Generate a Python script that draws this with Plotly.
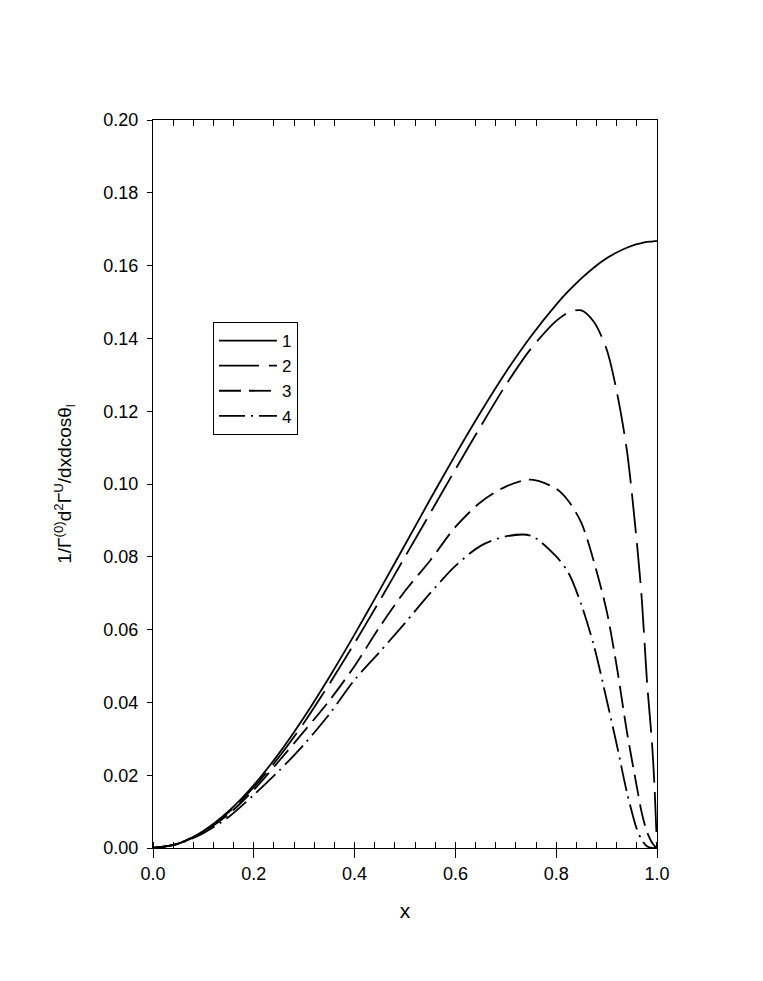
import plotly.graph_objects as go

# values
x_vals = [0.0, 0.05, 0.1, 0.15, 0.2, 0.25, 0.3, 0.35, 0.4, 0.45, 0.5, 0.55, 0.6, 0.65,
          0.7, 0.75, 0.8, 0.825, 0.85, 0.875, 0.9, 0.92, 0.94, 0.96, 0.97, 0.98, 0.99,
          0.995, 1.0]

curve1 = [0.0, 0.0012, 0.0047, 0.0101, 0.0173, 0.0260, 0.0360, 0.0470, 0.0587, 0.0709,
          0.0833, 0.0958, 0.1080, 0.1197, 0.1307, 0.1406, 0.1493, 0.1531, 0.1565, 0.1595,
          0.1620, 0.1636, 0.1649, 0.1659, 0.1662, 0.1665, 0.1666, 0.1667, 0.1667]

curve2 = [0.0, 0.0012, 0.0046, 0.0098, 0.0167, 0.0250, 0.0345, 0.0451, 0.0563, 0.0680,
          0.0800, 0.0920, 0.1040, 0.1158, 0.1272, 0.1372, 0.1448, 0.1472, 0.1477, 0.1445,
          0.1370, 0.1255, 0.1095, 0.0840, 0.0680, 0.0460, 0.0290, 0.0170, 0.0]

curve3 = [0.0, 0.0012, 0.0044, 0.0093, 0.0160, 0.0239, 0.0321, 0.0405, 0.0500, 0.0608,
          0.0706, 0.0790, 0.0882, 0.0950, 0.0993, 0.1012, 0.0987, 0.0952, 0.0893, 0.0786,
          0.0652, 0.0500, 0.0322, 0.0168, 0.0095, 0.0045, 0.0015, 0.0006, 0.0]

curve4 = [0.0, 0.0011, 0.0041, 0.0085, 0.0146, 0.0212, 0.0285, 0.0368, 0.0462, 0.0539,
          0.0618, 0.0700, 0.0775, 0.0830, 0.0856, 0.0858, 0.0801, 0.0754, 0.0668, 0.0555,
          0.0408, 0.0285, 0.0155, 0.0052, 0.0022, 0.0005, 0.0, 0.0, 0.0]

names = ["1", "2", "3", "4"]
dashes = ["solid", "40px,10px", "22px,8px", "26px,6px,2px,6px"]

fig = go.Figure()
for name, ys, dash in zip(names, [curve1, curve2, curve3, curve4], dashes):
    fig.add_trace(go.Scatter(x=x_vals, y=ys, mode="lines", name=name,
                             line=dict(color="black", width=1.8, dash=dash,
                                       shape="spline", smoothing=0.8)))

# invisible trace so the top axis (minor ticks only) gets drawn
fig.add_trace(go.Scatter(x=x_vals, y=curve1, xaxis="x2", mode="lines",
                         line=dict(color="rgba(0,0,0,0)"), showlegend=False,
                         hoverinfo="skip"))

fig.update_layout(
    width=763, height=981,
    margin=dict(l=145, r=114, t=112, b=141),
    paper_bgcolor="white", plot_bgcolor="white",
    font=dict(family="Liberation Sans, Arial, sans-serif", size=18, color="black"),
    showlegend=True,
    legend=dict(x=0.119, y=0.7225, xanchor="left", yanchor="top",
                bgcolor="white", bordercolor="black", borderwidth=1,
                font=dict(size=17), tracegroupgap=0, itemwidth=58),
    xaxis=dict(range=[0, 1], tickvals=[0, 0.2, 0.4, 0.6, 0.8, 1.0],
               ticktext=["0.0", "0.2", "0.4", "0.6", "0.8", "1.0"],
               ticks="outside", ticklen=9, tickwidth=1, tickcolor="black",
               minor=dict(ticks="inside", dtick=0.04, ticklen=6, tickcolor="black",
                          showgrid=False),
               showline=True, linecolor="black", linewidth=1, mirror=True,
               showgrid=False, zeroline=False,
               title=dict(text="x", font=dict(size=21), standoff=20)),
    xaxis2=dict(range=[0, 1], overlaying="x", side="top", showticklabels=False,
                ticks="", dtick=0.2,
                minor=dict(ticks="inside", dtick=0.04, ticklen=6, tickcolor="black",
                           showgrid=False),
                showline=False, showgrid=False, zeroline=False),
    yaxis=dict(range=[0, 0.2], dtick=0.02, tickformat=".2f",
               ticks="outside", ticklen=5, tickwidth=1, tickcolor="black",
               ticklabelstandoff=5,
               showline=True, linecolor="black", linewidth=1, mirror=True,
               showgrid=False, zeroline=False,
               title=dict(text="1/Γ<sup>(0)</sup>d<sup>2</sup>Γ<sup>U</sup>/dxdcosθ<sub>l</sub>",
                          font=dict(size=19), standoff=26)),
)

fig.write_html("out.html")
